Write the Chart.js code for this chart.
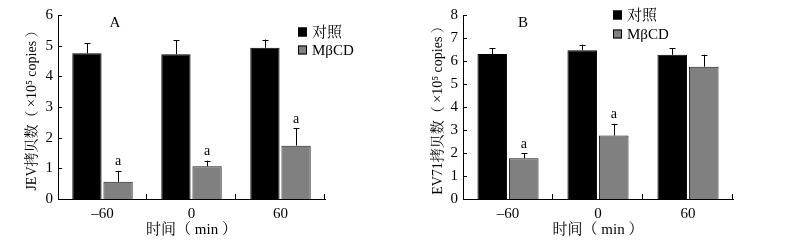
<!DOCTYPE html>
<html>
<head>
<meta charset="utf-8">
<script src="https://cdn.jsdelivr.net/npm/chart.js@4.4.1/dist/chart.umd.min.js"></script>
<style>
    body { margin: 0; background: #fff; }
    #wrap { position: relative; width: 802px; height: 243px; }
    canvas { position: absolute; top: 0; }
</style>
</head>
<body>
<div id="wrap">
    <canvas id="chartA" width="400" height="243" style="left:0"></canvas>
    <canvas id="chartB" width="402" height="243" style="left:400px"></canvas>
</div>
<script>
const categories = ['–60', '0', '60'];
const seriesNames = ['对照', 'MβCD'];

// panel A: JEV
const jevControl = [4.75, 4.72, 4.93];
const jevControlErr = [0.33, 0.45, 0.27];
const jevMbcd = [0.56, 1.07, 1.74];
const jevMbcdErr = [0.36, 0.18, 0.56];
const jevMarks = ['a', 'a', 'a'];

// panel B: EV71
const evControl = [6.30, 6.47, 6.27];
const evControlErr = [0.26, 0.24, 0.29];
const evMbcd = [1.77, 2.76, 5.75];
const evMbcdErr = [0.22, 0.51, 0.52];
const evMarks = ['a', 'a', ''];

const serif = '"Liberation Serif", "Noto Serif CJK SC", "Noto Sans CJK SC", serif';
Chart.defaults.color = '#000';
Chart.defaults.font.family = serif;

// error bars, "a" marks, inner ticks, legend and panel letter
const decorPlugin = {
    id: 'decor',
    afterDatasetsDraw(chart, args, opts) {
        const ctx = chart.ctx;
        const y = chart.scales.y;
        const x = chart.scales.x;
        ctx.save();
        ctx.strokeStyle = '#000';
        ctx.lineWidth = 1;

        // error bars (upper only)
        chart.data.datasets.forEach((ds, di) => {
            const meta = chart.getDatasetMeta(di);
            meta.data.forEach((bar, i) => {
                const top = y.getPixelForValue(ds.data[i] + ds.errors[i]);
                const bx = Math.round(bar.x) + 0.5;
                ctx.beginPath();
                ctx.moveTo(bx, bar.y);
                ctx.lineTo(bx, top);
                ctx.moveTo(bx - 3, Math.round(top) + 0.5);
                ctx.lineTo(bx + 3, Math.round(top) + 0.5);
                ctx.stroke();
                if (ds.marks && ds.marks[i]) {
                    ctx.fillStyle = '#000';
                    ctx.font = '14px ' + serif;
                    ctx.textAlign = 'center';
                    ctx.textBaseline = 'middle';
                    ctx.fillText(ds.marks[i], bar.x, top - 9);
                }
            });
        });

        // inner tick marks
        ctx.beginPath();
        y.ticks.forEach((t, i) => {
            const py = Math.round(y.getPixelForTick(i)) + 0.5;
            ctx.moveTo(x.left, py);
            ctx.lineTo(x.left + 4, py);
        });
        const w = (x.right - x.left) / categories.length;
        for (let k = 1; k <= categories.length; k++) {
            const px = Math.round(x.left + k * w) - 0.5;
            ctx.moveTo(px, y.bottom);
            ctx.lineTo(px, y.bottom - 5);
        }
        ctx.stroke();

        // legend
        ctx.font = '15px ' + serif;
        ctx.textAlign = 'left';
        ctx.textBaseline = 'middle';
        chart.data.datasets.forEach((ds, di) => {
            const ly = opts.legendY[di];
            ctx.fillStyle = ds.backgroundColor;
            ctx.fillRect(opts.legendX, ly - 4.5, 9, 9);
            ctx.strokeRect(opts.legendX + 0.5, ly - 4, 8, 8);
            ctx.fillStyle = '#000';
            ctx.fillText(ds.label, opts.legendX + 14, ly + 1);
        });

        // panel letter
        ctx.font = '15px ' + serif;
        ctx.textAlign = 'center';
        ctx.fillText(opts.letter, opts.letterX, 23);
        ctx.restore();
    }
};

function makeChart(id, cfg) {
    return new Chart(document.getElementById(id), {
        type: 'bar',
        data: {
            labels: categories,
            datasets: [
                {
                    label: seriesNames[0],
                    data: cfg.control,
                    errors: cfg.controlErr,
                    backgroundColor: '#000000',
                    borderColor: '#000000',
                    borderWidth: 1,
                    categoryPercentage: 0.7,
                    barPercentage: 0.94
                },
                {
                    label: seriesNames[1],
                    data: cfg.mbcd,
                    errors: cfg.mbcdErr,
                    marks: cfg.marks,
                    backgroundColor: '#808080',
                    borderColor: '#1a1a1a',
                    borderWidth: 1,
                    categoryPercentage: 0.7,
                    barPercentage: 0.94
                }
            ]
        },
        options: {
            responsive: false,
            animation: false,
            layout: {
                padding: { left: cfg.padLeft, right: cfg.padRight, top: 15, bottom: 0 }
            },
            plugins: {
                legend: { display: false },
                tooltip: { enabled: false },
                decor: {
                    legendX: cfg.legendX,
                    legendY: cfg.legendY,
                    letter: cfg.letter,
                    letterX: cfg.letterX
                }
            },
            scales: {
                x: {
                    grid: { display: false, drawTicks: false },
                    border: { display: true, color: '#000', width: 1 },
                    ticks: { padding: 6, font: { size: 15 } },
                    title: {
                        display: true,
                        text: '时间（ min ）',
                        font: { size: 15 },
                        padding: { top: 0, bottom: 4 }
                    },
                    afterFit(scale) { scale.height = 44; }
                },
                y: {
                    min: 0,
                    max: cfg.max,
                    grid: { display: false, drawTicks: false },
                    border: { display: true, color: '#000', width: 1 },
                    ticks: { stepSize: 1, padding: 5, font: { size: 15 } },
                    title: {
                        display: true,
                        text: cfg.yTitle,
                        font: { size: 14 },
                        padding: { top: 4, bottom: 0 }
                    },
                    afterFit(scale) { scale.width = cfg.axisWidth; }
                }
            }
        },
        plugins: [decorPlugin]
    });
}

makeChart('chartA', {
    control: jevControl, controlErr: jevControlErr,
    mbcd: jevMbcd, mbcdErr: jevMbcdErr, marks: jevMarks,
    max: 6, yTitle: 'JEV拷贝数（ ×10⁵ copies ）',
    padLeft: 20, padRight: 75, axisWidth: 38,
    legendX: 298, legendY: [32, 50], letter: 'A', letterX: 115
});

makeChart('chartB', {
    control: evControl, controlErr: evControlErr,
    mbcd: evMbcd, mbcdErr: evMbcdErr, marks: evMarks,
    max: 8, yTitle: 'EV71拷贝数（ ×10⁵ copies ）',
    padLeft: 26, padRight: 69, axisWidth: 37,
    legendX: 213, legendY: [15, 34], letter: 'B', letterX: 123
});
</script>
</body>
</html>
